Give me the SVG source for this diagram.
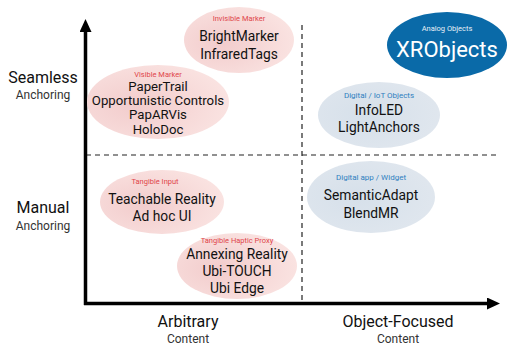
<svg xmlns="http://www.w3.org/2000/svg" width="508" height="350" viewBox="0 0 508 350">
<defs>
<radialGradient id="pink" cx="0.35" cy="0.55" r="0.75">
<stop offset="0" stop-color="#f2cccc"/>
<stop offset="1" stop-color="#fbe6e4"/>
</radialGradient>
<radialGradient id="blue" cx="0.4" cy="0.5" r="0.75">
<stop offset="0" stop-color="#d6e0ea"/>
<stop offset="1" stop-color="#e2e8ef"/>
</radialGradient>
<marker id="ah" markerWidth="13" markerHeight="12" refX="0" refY="6" orient="auto" markerUnits="userSpaceOnUse">
<path d="M0,0 L13,6 L0,12 Z" fill="#000"/>
</marker>
</defs>
<style>
text{font-family:"Roboto","Open Sans","Liberation Sans",sans-serif;text-anchor:middle}
.n{font-size:13.8px;fill:#111}
.pl{font-size:7.5px;fill:#e0454a}
.bl{font-size:8px;fill:#2f7fbf}
.ax{font-size:16px;fill:#111}
.sub{font-size:12px;fill:#333}
.pk{fill:url(#pink)}
.bf{fill:url(#blue)}
</style>
<g id="connectors">
<line x1="86" y1="155" x2="498" y2="155" stroke="#222" stroke-width="1.2" stroke-dasharray="5,4"/>
<line x1="302" y1="25" x2="302" y2="302" stroke="#222" stroke-width="1.2" stroke-dasharray="5,4"/>
<path d="M85.5,305 L85.5,32" stroke="#000" stroke-width="3.5" fill="none" marker-end="url(#ah)"/>
<path d="M84,303.5 L487,303.5" stroke="#000" stroke-width="3.5" fill="none" marker-end="url(#ah)"/>
</g>
<g id="axis-labels">
<text class="ax" x="43" y="83">Seamless</text>
<text class="sub" x="43" y="99">Anchoring</text>
<text class="ax" x="43" y="213">Manual</text>
<text class="sub" x="43" y="230">Anchoring</text>
<text class="ax" x="188" y="327">Arbitrary</text>
<text class="sub" x="188" y="343">Content</text>
<text class="ax" x="398" y="327">Object-Focused</text>
<text class="sub" x="398" y="343">Content</text>
</g>
<g id="invisible-marker">
<ellipse class="pk" cx="239" cy="40" rx="55" ry="33"/>
<text class="pl" x="239" y="21">Invisible Marker</text>
<text class="n" x="239" y="41">BrightMarker</text>
<text class="n" x="239" y="59">InfraredTags</text>
</g>
<g id="visible-marker">
<ellipse class="pk" cx="158" cy="102" rx="71" ry="37"/>
<text class="pl" x="158" y="77">Visible Marker</text>
<text class="n" x="158" y="91" style="font-size:13.2px">PaperTrail</text>
<text class="n" x="158" y="104.5" style="font-size:13.2px">Opportunistic Controls</text>
<text class="n" x="158" y="119" style="font-size:13.2px">PapARVis</text>
<text class="n" x="158" y="134" style="font-size:13.2px">HoloDoc</text>
</g>
<g id="xrobjects">
<ellipse cx="447" cy="45" rx="60" ry="33" fill="#0a6aa8"/>
<text x="447" y="31" style="font-size:7.5px;fill:#e8f0f7">Analog Objects</text>
<text x="447" y="57" style="font-size:22px;fill:#fff">XRObjects</text>
</g>
<g id="iot-objects">
<ellipse class="bf" cx="379" cy="115" rx="61" ry="33"/>
<text class="bl" x="379" y="98">Digital / IoT Objects</text>
<text class="n" x="379" y="115">InfoLED</text>
<text class="n" x="379" y="132">LightAnchors</text>
</g>
<g id="digital-app">
<ellipse class="bf" cx="371" cy="197" rx="64" ry="36"/>
<text class="bl" x="371" y="180">Digital app / Widget</text>
<text class="n" x="371" y="200">SemanticAdapt</text>
<text class="n" x="371" y="218">BlendMR</text>
</g>
<g id="tangible-input">
<ellipse class="pk" cx="162" cy="202" rx="62" ry="32"/>
<text class="pl" x="155" y="184">Tangible Input</text>
<text class="n" x="162" y="204">Teachable Reality</text>
<text class="n" x="162" y="221">Ad hoc UI</text>
</g>
<g id="tangible-haptic-proxy">
<ellipse class="pk" cx="237" cy="266" rx="60" ry="33"/>
<text class="pl" x="237" y="243">Tangible Haptic Proxy</text>
<text class="n" x="237" y="259">Annexing Reality</text>
<text class="n" x="237" y="276">Ubi-TOUCH</text>
<text class="n" x="237" y="293">Ubi Edge</text>
</g>
</svg>
